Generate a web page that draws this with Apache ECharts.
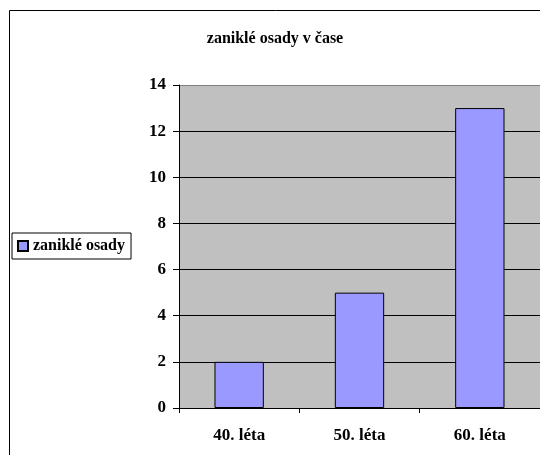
<!DOCTYPE html>
<html>
<head>
<meta charset="utf-8">
<script src="https://cdn.jsdelivr.net/npm/echarts@6/dist/echarts.min.js"></script>
<style>
  html, body { margin: 0; padding: 0; background: #fff; }
  #chart { width: 540px; height: 455px; }
</style>
</head>
<body>
<div id="chart"></div>
<script>
// Zaniklé osady podle desetiletí
const categories = ['40. léta', '50. léta', '60. léta'];
const seriesName = 'zaniklé osady';
const values = [2, 5, 13];
const chartTitle = 'zaniklé osady v čase';

const serif = '"Liberation Serif", "Times New Roman", serif';
const chart = echarts.init(document.getElementById('chart'));

chart.setOption({
  backgroundColor: '#ffffff',
  animation: false,
  title: {
    text: chartTitle,
    left: 270,
    textAlign: 'center',
    top: 26,
    textStyle: { fontFamily: serif, fontWeight: 'bold', fontSize: 16, color: '#000' }
  },
  legend: {
    left: 12,
    top: 233,
    orient: 'vertical',
    padding: [5, 6, 5, 5],
    borderColor: '#000',
    borderWidth: 1,
    backgroundColor: '#fff',
    borderRadius: 0,
    itemWidth: 10,
    itemHeight: 10,
    itemGap: 4,
    icon: 'rect',
    textStyle: { fontFamily: serif, fontWeight: 'bold', fontSize: 16, color: '#000', padding: [0, 0, 0, 0] },
    data: [seriesName]
  },
  grid: {
    left: 179,
    top: 85,
    width: 362,
    height: 323,
    show: true,
    backgroundColor: '#C0C0C0',
    borderWidth: 0
  },
  xAxis: {
    type: 'category',
    data: categories,
    axisLine: { lineStyle: { color: '#000', width: 1 } },
    axisTick: { show: true, length: 5, lineStyle: { color: '#000' } },
    axisLabel: { fontFamily: serif, fontWeight: 'bold', fontSize: 17, color: '#000', margin: 19 },
    splitLine: { show: false }
  },
  yAxis: {
    type: 'value',
    min: 0,
    max: 14,
    interval: 2,
    axisLine: { show: true, lineStyle: { color: '#000', width: 1 } },
    axisTick: { show: true, length: 6, lineStyle: { color: '#000' } },
    axisLabel: { fontFamily: serif, fontWeight: 'bold', fontSize: 17, color: '#000', margin: 13 },
    splitLine: {
      show: true,
      lineStyle: {
        color: ['#000', '#000', '#000', '#000', '#000', '#000', '#000', '#808080'],
        width: 1
      }
    }
  },
  series: [{
    name: seriesName,
    type: 'bar',
    data: values,
    barWidth: '41%',
    itemStyle: { color: '#9999FF', borderColor: '#000', borderWidth: 1 }
  }],
  graphic: [{
    type: 'rect',
    shape: { x: 9.5, y: 10.5, width: 600, height: 600 },
    style: { fill: 'none', stroke: '#000', lineWidth: 1 },
    silent: true,
    z: 100
  }]
});
</script>
</body>
</html>
